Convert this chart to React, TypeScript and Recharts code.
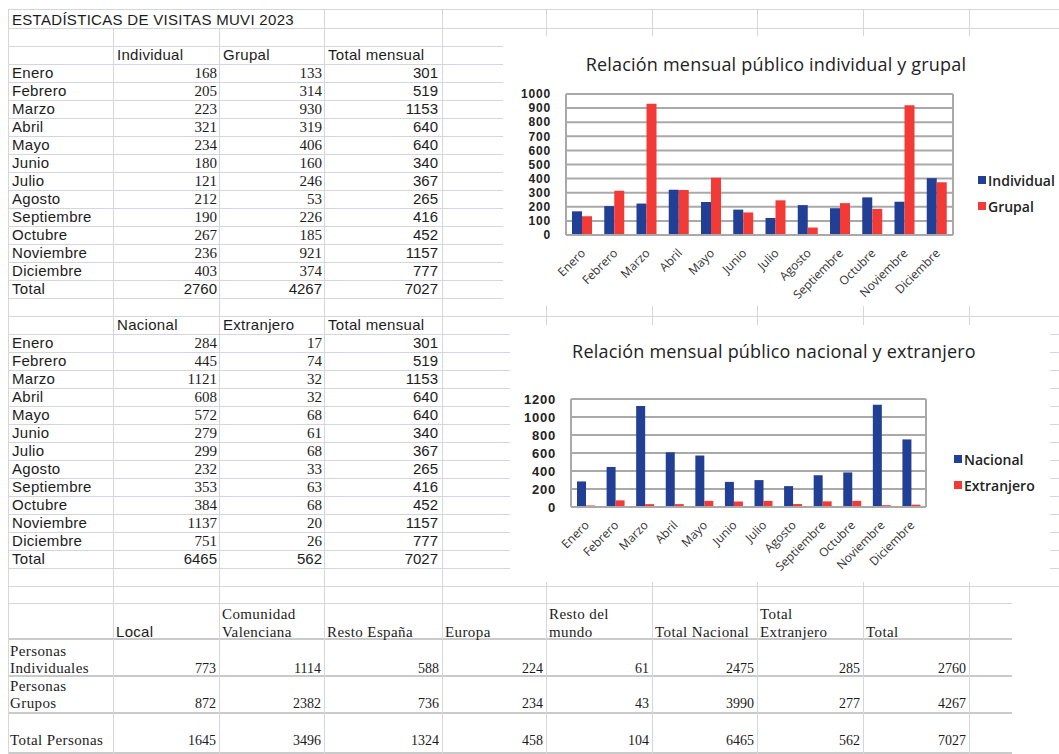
import { BarChart, Bar, XAxis, YAxis, CartesianGrid, Legend } from "recharts";

const MONTHS = [
  "Enero", "Febrero", "Marzo", "Abril", "Mayo", "Junio",
  "Julio", "Agosto", "Septiembre", "Octubre", "Noviembre", "Diciembre",
];
const INDIVIDUAL = [168, 205, 223, 321, 234, 180, 121, 212, 190, 267, 236, 403];
const GRUPAL = [133, 314, 930, 319, 406, 160, 246, 53, 226, 185, 921, 374];
const TOTAL_MENSUAL = [301, 519, 1153, 640, 640, 340, 367, 265, 416, 452, 1157, 777];
const TOTALS_TIPO = [2760, 4267, 7027];

const NACIONAL = [284, 445, 1121, 608, 572, 279, 299, 232, 353, 384, 1137, 751];
const EXTRANJERO = [17, 74, 32, 32, 68, 61, 68, 33, 63, 68, 20, 26];
const TOTALS_ORIGEN = [6465, 562, 7027];

const ORIGIN_HEADERS = [
  "Local", "Comunidad\nValenciana", "Resto España", "Europa",
  "Resto del\nmundo", "Total Nacional", "Total\nExtranjero", "Total",
];
const ORIGIN_ROWS = ["Personas\nIndividuales", "Personas\nGrupos", "Total Personas"];
const ORIGIN_INDIVIDUALES = [773, 1114, 588, 224, 61, 2475, 285, 2760];
const ORIGIN_GRUPOS = [872, 2382, 736, 234, 43, 3990, 277, 4267];
const ORIGIN_TOTAL = [1645, 3496, 1324, 458, 104, 6465, 562, 7027];

const Y1_TICKS = [0, 100, 200, 300, 400, 500, 600, 700, 800, 900, 1000];
const Y2_TICKS = [0, 200, 400, 600, 800, 1000, 1200];

const BLUE = "#223f96";
const RED = "#f23b37";
const GRID = "#d5d5dd";
const PLOT_GRID = "#a9a9a9";
const SANS = "'Liberation Sans', Arial, sans-serif";
const SERIF = "'Liberation Serif', 'Times New Roman', serif";
const CHART_FONT = "'Open Sans', sans-serif";

// sheet layout
const COLS = [8, 113, 219, 324, 442, 546, 652, 757, 863, 969];
const ROW_LINES = [9, 28, ...Array.from({ length: 31 }, (_, k) => 46 + 18 * k)];
const BOTTOM_LINES = [603, 638, 675, 712, 752];

const chart1Data = MONTHS.map((m, i) => ({ month: m, individual: INDIVIDUAL[i], grupal: GRUPAL[i] }));
const chart2Data = MONTHS.map((m, i) => ({ month: m, nacional: NACIONAL[i], extranjero: EXTRANJERO[i] }));

function HLine({ y, x1, x2, color = GRID, h = 1 }: any) {
  return <div style={{ position: "absolute", left: x1, top: y, width: x2 - x1, height: h, background: color }} />;
}
function VLine({ x, y1, y2 }: any) {
  return <div style={{ position: "absolute", left: x, top: y1, width: 1, height: y2 - y1, background: GRID }} />;
}

function Txt({ c, top, text, align = "left", serif = false, size = 15, lh = 18, pad = 4, spacing = 0.3 }: any) {
  return (
    <div
      style={{
        position: "absolute", left: COLS[c], width: COLS[c + 1] - COLS[c], top,
        lineHeight: `${lh}px`, fontSize: size, fontFamily: serif ? SERIF : SANS,
        textAlign: align, padding: `0 ${pad}px`, boxSizing: "border-box",
        color: "#1c1c1c", whiteSpace: "pre", letterSpacing: spacing,
      }}
    >
      {text}
    </div>
  );
}

function MonthTable({ top, headers, a, b, totals, sums }: any) {
  return (
    <>
      {headers.map((h: string, i: number) => (
        <Txt key={h} c={i + 1} top={top} text={h} />
      ))}
      {MONTHS.map((m, i) => (
        <div key={m}>
          <Txt c={0} top={top + 18 * (i + 1)} text={m} />
          <Txt c={1} top={top + 18 * (i + 1)} text={a[i]} align="right" serif pad={2} spacing={0} />
          <Txt c={2} top={top + 18 * (i + 1)} text={b[i]} align="right" serif pad={2} spacing={0} />
          <Txt c={3} top={top + 18 * (i + 1)} text={sums[i]} align="right" spacing={0} />
        </div>
      ))}
      <Txt c={0} top={top + 18 * 13} text="Total" />
      {totals.map((t: number, i: number) => (
        <Txt key={i} c={i + 1} top={top + 18 * 13} text={t} align="right" pad={i === 2 ? 4 : 2} spacing={0} />
      ))}
    </>
  );
}

function MonthTick({ x, y, payload }: any) {
  return (
    <g transform={`translate(${x + 1},${y + 16})`}>
      <text textAnchor="end" transform="rotate(-45)" dy="0.35em" fontSize={12} fill="#333" fontFamily={CHART_FONT}>
        {payload.value}
      </text>
    </g>
  );
}

// keeps series order (Recharts sorts legend items by name otherwise)
function makeLegend(order: string[]) {
  return function SideLegend({ payload }: any) {
    const items = [...(payload || [])].sort((p, q) => order.indexOf(p.value) - order.indexOf(q.value));
    return (
      <div style={{ fontFamily: CHART_FONT, fontSize: 14, fontWeight: 600, color: "#222" }}>
        {items.map((p: any) => (
          <div key={p.value} style={{ display: "flex", alignItems: "center", height: 26 }}>
            <span style={{ width: 8, height: 8, background: p.color, marginRight: 2 }} />
            <span>{p.value}</span>
          </div>
        ))}
      </div>
    );
  };
}
const Legend1 = makeLegend(["Individual", "Grupal"]);
const Legend2 = makeLegend(["Nacional", "Extranjero"]);

const edgeLines = (props: any) => {
  const o = props.offset;
  return [o.left, o.left + o.width];
};

const yTick = (size: number) => ({
  fontSize: size, fontWeight: 700, fill: "#222", fontFamily: SANS, letterSpacing: 0.8,
});

const titleStyle = {
  position: "absolute" as const, left: 0, textAlign: "center" as const, fontFamily: CHART_FONT,
  fontSize: 18, letterSpacing: 0.2, color: "#222", lineHeight: "22px", whiteSpace: "nowrap" as const,
};

// legend widths are added to the right offset by recharts, so margins are reduced by them
const LEG1_W = 90;
const LEG2_W = 96;

export default function App() {
  return (
    <div style={{ position: "absolute", left: 0, top: 0, width: 1059, height: 754, overflow: "hidden", background: "#fff" }}>
      {/* sheet grid */}
      {ROW_LINES.map((y) => (
        <HLine key={y} y={y} x1={8} x2={1059} />
      ))}
      {COLS.map((x) => (
        <VLine key={x} x={x} y1={x === 113 || x === 219 ? 28 : 9} y2={603} />
      ))}
      {BOTTOM_LINES.map((y, i) => (
        <HLine key={y} y={y} x1={8} x2={1012} color={i === 0 ? GRID : "#cacaca"} h={i === 0 ? 1 : 2} />
      ))}
      {COLS.map((x) => (
        <VLine key={"b" + x} x={x} y1={603} y2={754} />
      ))}

      {/* title */}
      <div style={{ position: "absolute", left: 12, top: 11, lineHeight: "18px", fontSize: 15, fontFamily: SANS, color: "#1c1c1c", letterSpacing: 0.3, whiteSpace: "nowrap" }}>
        ESTADÍSTICAS DE VISITAS MUVI 2023
      </div>

      <MonthTable top={46} headers={["Individual", "Grupal", "Total mensual"]} a={INDIVIDUAL} b={GRUPAL} totals={TOTALS_TIPO} sums={TOTAL_MENSUAL} />
      <MonthTable top={316} headers={["Nacional", "Extranjero", "Total mensual"]} a={NACIONAL} b={EXTRANJERO} totals={TOTALS_ORIGEN} sums={TOTAL_MENSUAL} />

      {/* origin table */}
      {ORIGIN_HEADERS.map((h, i) => {
        const lines = h.split("\n").length;
        return <Txt key={h} c={i + 1} top={641 - 18 * lines} text={h} serif={i > 0} pad={3} spacing={i > 0 ? 0.4 : 0.3} />;
      })}
      {ORIGIN_ROWS.map((r, ri) => {
        const bottom = [677, 712, 749][ri];
        const vals = [ORIGIN_INDIVIDUALES, ORIGIN_GRUPOS, ORIGIN_TOTAL][ri];
        const lines = r.split("\n").length;
        return (
          <div key={r}>
            <Txt c={0} top={bottom - 17 * lines} lh={17} text={r} serif pad={2} spacing={0.4} />
            {vals.map((v, i) => (
              <Txt key={i} c={i + 1} top={bottom - 17} lh={17} text={v} serif align="right" size={14} pad={3} spacing={0} />
            ))}
          </div>
        );
      })}

      {/* chart 1 */}
      <div style={{ position: "absolute", left: 503, top: 36, width: 556, height: 270, background: "#fff" }}>
        <BarChart width={556} height={270} data={chart1Data} margin={{ top: 58, right: 106 - LEG1_W, bottom: 5, left: 0 }} barGap={0}>
          <CartesianGrid stroke={PLOT_GRID} strokeWidth={2} verticalCoordinatesGenerator={edgeLines} />
          <XAxis dataKey="month" interval={0} height={66} tickLine={false} tickSize={0} tickMargin={0} axisLine={{ stroke: PLOT_GRID, strokeWidth: 2 }} tick={<MonthTick />} />
          <YAxis width={63} domain={[0, 1000]} ticks={Y1_TICKS} interval={0} tickLine={false} tickSize={0} tickMargin={15} axisLine={{ stroke: PLOT_GRID, strokeWidth: 2 }} tick={yTick(12)} />
          <Legend layout="vertical" align="right" verticalAlign="top" content={<Legend1 />} wrapperStyle={{ left: 475, top: 131, width: LEG1_W }} />
          <Bar dataKey="individual" name="Individual" fill={BLUE} barSize={10} isAnimationActive={false} />
          <Bar dataKey="grupal" name="Grupal" fill={RED} barSize={10} isAnimationActive={false} />
        </BarChart>
        <div style={{ ...titleStyle, width: 546, top: 17 }}>Relación mensual público individual y grupal</div>
      </div>

      {/* chart 2 */}
      <div style={{ position: "absolute", left: 510, top: 325, width: 540, height: 257, background: "#fff" }}>
        <BarChart width={540} height={257} data={chart2Data} margin={{ top: 74, right: 124 - LEG2_W, bottom: 5, left: 0 }} barGap={0}>
          <CartesianGrid stroke={PLOT_GRID} strokeWidth={2} verticalCoordinatesGenerator={edgeLines} />
          <XAxis dataKey="month" interval={0} height={70} tickLine={false} tickSize={0} tickMargin={0} axisLine={{ stroke: PLOT_GRID, strokeWidth: 2 }} tick={<MonthTick />} />
          <YAxis width={61} domain={[0, 1200]} ticks={Y2_TICKS} interval={0} tickLine={false} tickSize={0} tickMargin={15} axisLine={{ stroke: PLOT_GRID, strokeWidth: 2 }} tick={yTick(13)} />
          <Legend layout="vertical" align="right" verticalAlign="top" content={<Legend2 />} wrapperStyle={{ left: 444, top: 121, width: LEG2_W }} />
          <Bar dataKey="nacional" name="Nacional" fill={BLUE} barSize={9} isAnimationActive={false} />
          <Bar dataKey="extranjero" name="Extranjero" fill={RED} barSize={9} isAnimationActive={false} />
        </BarChart>
        <div style={{ ...titleStyle, width: 528, top: 15 }}>Relación mensual público nacional y extranjero</div>
      </div>
    </div>
  );
}
